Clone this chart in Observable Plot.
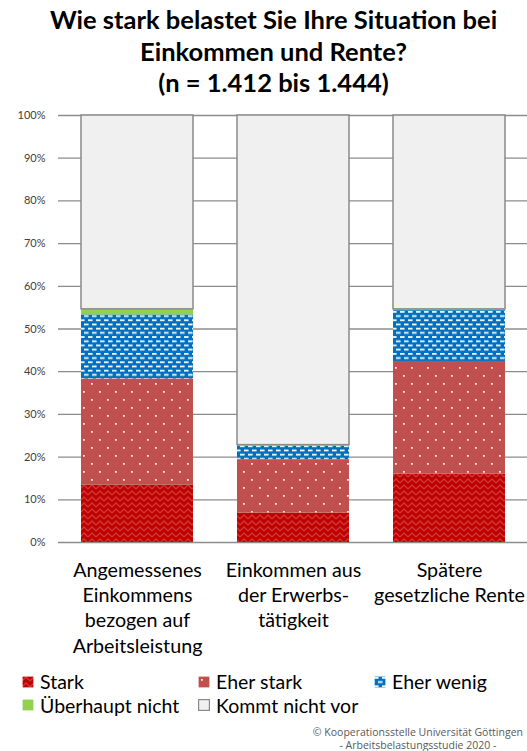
<!DOCTYPE html>
<html>
<head>
<meta charset="utf-8">
<script src="https://cdn.jsdelivr.net/npm/d3@7"></script>
<script src="https://cdn.jsdelivr.net/npm/@observablehq/plot@0.6"></script>
<style>
  html, body { margin: 0; padding: 0; background: #fff; }
  body { width: 527px; height: 751px; position: relative; overflow: hidden; font-family: Lato, "Open Sans", sans-serif; }
  #title { position: absolute; left: 10px; width: 527px; top: 4px; text-align: center; font-weight: bold; font-size: 25.5px; line-height: 31.5px; color: #000; white-space: nowrap; }
  #chart { position: absolute; left: 0; top: 100px; }
  #legend { position: absolute; left: 22px; top: 670px; width: 505px; font-size: 19.5px; color: #000; }
  .row { display: flex; height: 23.5px; align-items: center; }
  .item { width: 176px; flex: none; display: flex; align-items: center; white-space: nowrap; }
  .item svg { margin-right: 6px; flex: none; }
  #caption { position: absolute; right: 4px; top: 726px; font-size: 10.5px; color: #595959; text-align: center; font-family: "Liberation Sans Narrow", "Open Sans", sans-serif; }
  #caption div { height: 12.5px; line-height: 12.5px; white-space: nowrap; }
</style>
</head>
<body>
<svg width="0" height="0" style="position:absolute">
  <defs>
    <pattern id="p-stark" patternUnits="userSpaceOnUse" width="8" height="6">
      <rect width="8" height="6" fill="#C00000"/>
      <path d="M0,5 L4,1 L8,5" fill="none" stroke="#D65050" stroke-width="1.3" stroke-opacity="0.7"/>
    </pattern>
    <pattern id="p-eherstark" patternUnits="userSpaceOnUse" width="16" height="16">
      <rect width="16" height="16" fill="#C0504D"/>
      <rect x="3" y="3" width="1.7" height="1.7" fill="#fff"/>
      <rect x="11" y="11" width="1.7" height="1.7" fill="#fff"/>
    </pattern>
    <pattern id="p-eherwenig" patternUnits="userSpaceOnUse" width="8" height="8.4">
      <rect width="8" height="8.4" fill="#0070C0"/>
      <rect x="0" y="1" width="4.6" height="1.7" fill="#fff"/>
      <rect x="4" y="5.2" width="4.6" height="1.7" fill="#fff"/>
      <rect x="-4" y="5.2" width="4.6" height="1.7" fill="#fff"/>
    </pattern>
    <pattern id="p-ueberhaupt" patternUnits="userSpaceOnUse" width="8" height="8">
      <rect width="8" height="8" fill="#92D050"/>
    </pattern>
  </defs>
</svg>
<div id="title">Wie stark belastet Sie Ihre Situation bei<br>Einkommen und Rente?<br>(n = 1.412 bis 1.444)</div>
<div id="chart"></div>
<div id="legend"></div>
<div id="caption"><div>© Kooperationsstelle Universität Göttingen</div><div>- Arbeitsbelastungsstudie 2020 -</div></div>
<script>
const categories = ["Angemessenes Einkommens bezogen auf Arbeitsleistung", "Einkommen aus der Erwerbstätigkeit", "Spätere gesetzliche Rente"];
const categoryLabels = ["Angemessenes\nEinkommens\nbezogen auf\nArbeitsleistung", "Einkommen aus\nder Erwerbs-\ntätigkeit", "Spätere\ngesetzliche Rente"];
const seriesNames = ["Stark", "Eher stark", "Eher wenig", "Überhaupt nicht", "Kommt nicht vor"];
const stark = [13.4, 6.9, 16.0];
const eherStark = [24.9, 12.5, 26.4];
const eherWenig = [15.0, 3.2, 11.9];
const ueberhauptNicht = [1.3, 0.2, 0.3];
const kommtNichtVor = [45.4, 77.2, 45.4];
const yTicks = [0, 10, 20, 30, 40, 50, 60, 70, 80, 90, 100];

const patternFills = ["url(#p-stark)", "url(#p-eherstark)", "url(#p-eherwenig)", "url(#p-ueberhaupt)"];
const valueLists = [stark, eherStark, eherWenig, ueberhauptNicht];

const stacked = [];
valueLists.forEach((vals, si) => {
  categories.forEach((c, ci) => stacked.push({category: c, series: seriesNames[si], value: vals[ci]}));
});
const topRows = categories.map((c, ci) => ({category: c, value: kommtNichtVor[ci]}));
const labelRows = categories.map((c, ci) => ({category: c, label: categoryLabels[ci]}));

const chart = Plot.plot({
  width: 527,
  height: 562,
  marginLeft: 58,
  marginRight: 0,
  marginTop: 15,
  marginBottom: 120,
  style: {fontFamily: "Lato, sans-serif", fontSize: "11px", color: "#404040", background: "transparent"},
  x: {domain: categories, paddingInner: 0.283, paddingOuter: 0.1415, axis: null},
  y: {domain: [0, 100], ticks: yTicks, tickFormat: d => d + "%", tickSize: 0, tickPadding: 13, label: null},
  color: {type: "ordinal", domain: seriesNames.slice(0, 4), range: patternFills},
  marks: [
    Plot.ruleY(yTicks, {stroke: "#8c8c8c", strokeWidth: 1.3}),
    Plot.barY(stacked, Plot.stackY({x: "category", y: "value", fill: "series", z: "series"})),
    Plot.barY(topRows, {x: "category", y1: d => 100 - d.value, y2: 100, fill: "#F0F0F0", stroke: "#8a8a8a", strokeWidth: 1.5}),
    Plot.text(labelRows, {x: "category", y: 0, text: "label", lineAnchor: "top", dy: 16, fontSize: 19.7, lineHeight: 1.29, fill: "#000"})
  ]
});
document.getElementById("chart").appendChild(chart);

// Legend
const legendFills = ["url(#p-stark)", "url(#p-eherstark)", "url(#p-eherwenig)", "url(#p-ueberhaupt)", "#F0F0F0"];
const legendRows = [[0, 1, 2], [3, 4]];
const legend = document.getElementById("legend");
legendRows.forEach(r => {
  const row = document.createElement("div");
  row.className = "row";
  r.forEach(i => {
    const item = document.createElement("div");
    item.className = "item";
    const stroke = i === 4 ? ' stroke="#8a8a8a" stroke-width="1.2"' : '';
    item.innerHTML = `<svg width="12" height="12"><rect x="0.6" y="0.6" width="10.8" height="10.8" fill="${legendFills[i]}"${stroke}/></svg><span>${seriesNames[i]}</span>`;
    row.appendChild(item);
  });
  legend.appendChild(row);
});
</script>
</body>
</html>
